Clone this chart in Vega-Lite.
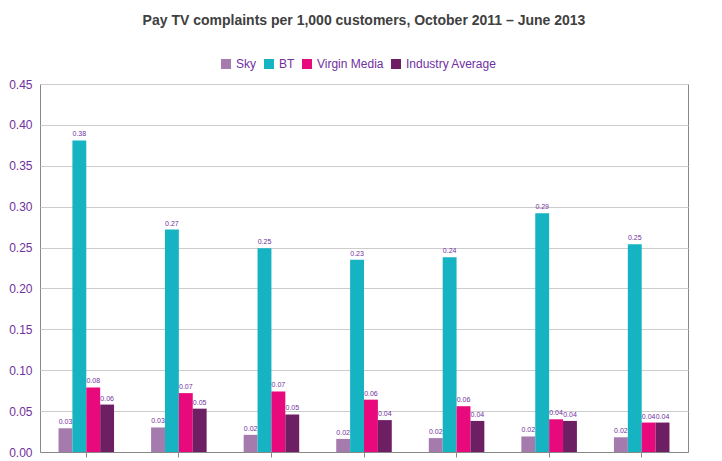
{
"$schema":"https://vega.github.io/schema/vega-lite/v6.json",
"width":648,"height":368,
"padding":{"left":8,"top":14,"right":20,"bottom":5},
"title":{"text":"Pay TV complaints per 1,000 customers, October 2011 – June 2013","font":"Liberation Sans","fontSize":14,"fontWeight":"bold","color":"#404040","offset":30},
"data":{"values":[
{"q":"Q4 2011","s":"Sky","v":0.029},{"q":"Q4 2011","s":"BT","v":0.381},{"q":"Q4 2011","s":"Virgin Media","v":0.079},{"q":"Q4 2011","s":"Industry Average","v":0.058},
{"q":"Q1 2012","s":"Sky","v":0.030},{"q":"Q1 2012","s":"BT","v":0.272},{"q":"Q1 2012","s":"Virgin Media","v":0.072},{"q":"Q1 2012","s":"Industry Average","v":0.053},
{"q":"Q2 2012","s":"Sky","v":0.021},{"q":"Q2 2012","s":"BT","v":0.249},{"q":"Q2 2012","s":"Virgin Media","v":0.074},{"q":"Q2 2012","s":"Industry Average","v":0.046},
{"q":"Q3 2012","s":"Sky","v":0.016},{"q":"Q3 2012","s":"BT","v":0.235},{"q":"Q3 2012","s":"Virgin Media","v":0.064},{"q":"Q3 2012","s":"Industry Average","v":0.039},
{"q":"Q4 2012","s":"Sky","v":0.017},{"q":"Q4 2012","s":"BT","v":0.238},{"q":"Q4 2012","s":"Virgin Media","v":0.056},{"q":"Q4 2012","s":"Industry Average","v":0.038},
{"q":"Q1 2013","s":"Sky","v":0.019},{"q":"Q1 2013","s":"BT","v":0.292},{"q":"Q1 2013","s":"Virgin Media","v":0.040},{"q":"Q1 2013","s":"Industry Average","v":0.038},
{"q":"Q2 2013","s":"Sky","v":0.018},{"q":"Q2 2013","s":"BT","v":0.254},{"q":"Q2 2013","s":"Virgin Media","v":0.036},{"q":"Q2 2013","s":"Industry Average","v":0.036}
]},
"encoding":{
"x":{"field":"q","type":"nominal","sort":null,"title":null,"scale":{"paddingInner":0.4,"paddingOuter":0.2},"axis":{"labelAngle":0,"labelFont":"Liberation Sans","labelFontSize":12,"labelColor":"#000","domainColor":"#888","ticks":true,"tickColor":"#888","labelPadding":6}},
"xOffset":{"field":"s","type":"nominal","sort":["Sky","BT","Virgin Media","Industry Average"]},
"y":{"field":"v","type":"quantitative","title":null,"scale":{"domain":[0,0.45]},"axis":{"values":[0,0.05,0.1,0.15,0.2,0.25,0.3,0.35,0.4,0.45],"format":".2f","labelFont":"Liberation Sans","labelFontSize":12,"labelColor":"#7030A0","gridColor":"#ccc","domain":false,"ticks":false,"labelPadding":8}}
},
"layer":[
{"mark":{"type":"bar"},"encoding":{"color":{"field":"s","type":"nominal","sort":["Sky","BT","Virgin Media","Industry Average"],"scale":{"domain":["Sky","BT","Virgin Media","Industry Average"],"range":["#A57BAE","#16B3C3","#E8097D","#6E1F64"]},"legend":{"orient":"none","legendX":180,"legendY":-26,"direction":"horizontal","title":null,"symbolType":"square","labelFont":"Liberation Sans","labelFontSize":12,"labelColor":"#7030A0","columnPadding":6}}}},
{"mark":{"type":"text","dy":-6,"fontSize":7,"font":"Liberation Sans","color":"#7030A0"},"encoding":{"text":{"field":"v","type":"quantitative","format":".2f"}}}
],
"config":{"view":{"stroke":"#888"},"background":"white"}
}
